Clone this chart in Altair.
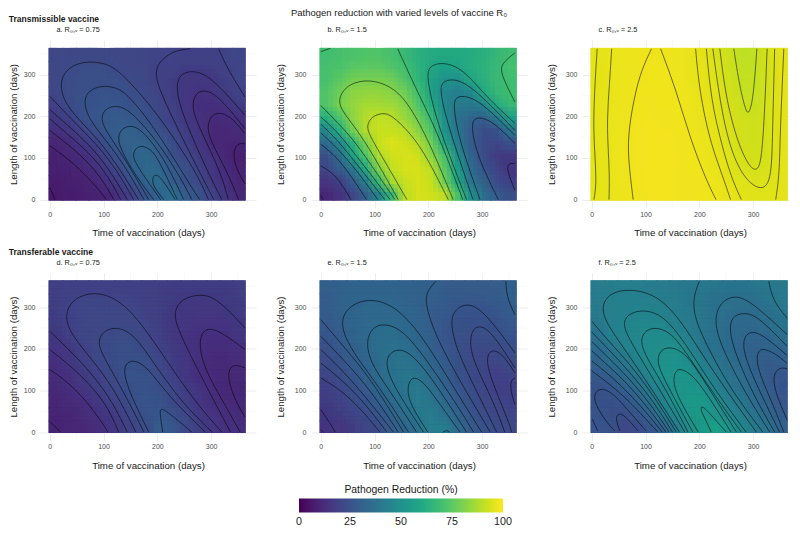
import altair as alt
import numpy as np
import pandas as pd

alt.data_transformers.disable_max_rows()

# Pathogen reduction (%): rows run from long to short vaccination, columns early to late
grid_a = [
 [21,21.5,22,22,22,21.8,21.3,20.8,20.3,20.1,19.7,19.5,19.7,20.3,21],
 [21.7,23,23.6,23.7,23,22.3,21.5,20.8,19.7,19,18,18,18.5,19.8,21],
 [21.5,23.5,24,24.2,24.2,23.7,22.3,21,19.6,18,17,17,17,18.7,21],
 [21,23.2,24.5,25.5,25.8,25.2,23.5,21.8,20,18,16,14.6,15,17.5,20],
 [19,22.8,24.8,26,27.3,26.8,25.3,22.8,21,18.5,16,14,14,15,18],
 [17,19.7,24,26.5,28.3,28.8,27.7,25,22.4,19.7,17,14.5,12.3,12.8,14.5],
 [13.5,16,20,24.5,28,30,30.3,27.5,24,20.8,18,15,12,12,12.5],
 [10.8,12.7,16.5,19.5,26,30.3,32,31,28.5,23,19.5,16,12,11,10.3],
 [9,10.8,13,16.5,21.5,26.7,32.8,33.5,29.5,24.5,21.5,17.5,14.8,11,9],
 [8.8,9.5,10.5,13.5,18,23,31,33.8,32.5,28,24,19.5,16,12.3,9.7],
 [8,8.7,9.3,11,14.8,19.5,25.5,33,35.3,29,25,22,17,14,10.5],
 [7,7.5,8.5,9.5,10.8,15.5,20.5,27,33,36,29,25,20,15.5,12],
]
grid_b = [
 [70,71,72,73,73,71,68,64,62,61,61,62,64,67,69],
 [71,72,74,75,75,73,70,65,60,57,59,62,65,68,71],
 [71,75,79,80,80,78,73,66,58,51,50,59,64,68.5,69],
 [73,78,83,84,84,82,78,70,58,47,44,47,60,68,69],
 [73,80,84,87,87,86,82,73,62,47,41,40,45,61,68],
 [63,72,83,89,91,90,85,78,68,50,38,33,30,41,56],
 [47,63,78,89,92,92,90,82,73,52,39,29,23,26,39],
 [34,46,64,80,92,95,93,89,78,59,42,29,23,21,26],
 [24,36,57,72,88,93,94,93,83,71,49,32,23,18,17],
 [21,29,39,60,81,91,94,94,90,75,56,36,26,20,16],
 [15,19,29,43,68,87,92,94,92,78,60,40,30,23,19],
 [11,15,21,30,45,68,90,94,93,90,71,50,36,29,24],
]
grid_c = [
 [96.3,97,97.5,97.8,98,97.9,97.6,97.2,96.2,94.7,92.6,90.6,90.8,94,96],
 [96.2,96.9,97.6,97.9,98.1,98.1,97.8,97.4,96.4,95,93,91,91,93.8,96],
 [96.2,96.9,97.7,98,98.2,98.2,97.9,97.4,96.6,95.2,93.3,91.4,91.4,93.8,96],
 [96.2,97,97.7,98.1,98.3,98.3,98,97.5,96.8,95.4,93.7,91.8,91.6,93.8,96],
 [96.2,97,97.7,98.2,98.4,98.3,98.1,97.7,97,95.6,94,92.4,92,94,96],
 [96.2,97,97.8,98.3,98.5,98.4,98.2,97.8,97.2,96,94.4,93,92.6,94.2,96],
 [96.2,97,97.9,98.4,98.6,98.5,98.3,98,97.4,96.2,94.6,93.4,93,94,96],
 [96.2,97,98,98.4,98.6,98.6,98.4,98.1,97.5,96.4,95,93.6,93,94,96],
 [96.2,97,98,98.4,98.6,98.6,98.5,98.2,97.7,96.8,95.3,94,93.2,94,96],
 [96.3,97,97.9,98.4,98.6,98.6,98.5,98.3,97.9,97,95.7,94.5,94,94.5,96],
 [96.3,97,97.8,98.3,98.6,98.6,98.5,98.4,98.1,97.5,96.3,95.4,94.9,95,96],
 [96.2,97,97.7,98.2,98.5,98.6,98.5,98.4,98.2,97.9,97,96.1,95.7,95.6,95.9],
]
grid_d = [
 [18.5,19,19.5,19.5,19.5,19.5,19,19,18.5,18,18,18,18,18,18.5],
 [18.5,20,20.5,21,20.8,20.5,20,19,18.3,17.5,17,17,17,17.3,18],
 [18,20,21,21.2,21.5,21.5,21,19.8,18.5,17,16.2,16,16,16.5,17.5],
 [17.5,19.5,21,21.5,22,22.3,22,20.5,18.5,16.5,15.5,15,15,15.3,16.5],
 [16.5,18.5,20.5,21.5,22.5,23.5,23,21,19,17,15,14,14,14.2,15.5],
 [15,17,19.5,21.5,23,24,24.3,22.5,20,17.5,15,13.5,13,13,14],
 [14,16,18.5,20.5,22.5,24.5,25.5,24,21,18,15.5,13.8,12.5,12,13],
 [13,14.5,17,19.5,21.8,24,25.8,25.5,22.5,19.5,16.5,14,12.7,11.8,12.3],
 [12,13.5,15.5,18,20.5,23,25.5,26,24,20.5,17.5,15,13,12,11.8],
 [11,12.5,14,16,19,21.5,24.5,26.5,25.5,22,19,16,14,12.5,12],
 [10.3,11,12.5,14.5,16.5,19.5,22.5,26,27.5,24.5,20.5,17,15,13.5,12.5],
 [10,10.5,11.5,13,15,17.5,20.5,24.5,28.5,27,22,18.5,16,14.5,13.5],
]
grid_e = [
 [30,31,31.5,31.8,32,32,31.5,31,30.5,29.5,29,29,29,29.5,30.5],
 [29.5,31.5,32.7,33,33,32.8,32,31,30,28.5,28,27.8,27.8,28.5,30],
 [29,31,33,34,34.3,34,33,31.5,29.5,27.5,26.5,26,26.2,27,29],
 [28,30.5,32.5,34.5,35.3,35.2,34.2,32,29.5,27,25.3,24.7,24.7,25.5,27.5],
 [26.5,29,32,34,36,36.8,35.5,33,30,27,24.5,23.5,23.3,24,26],
 [24.5,27.5,30.5,33.5,36,37.5,37.3,34.5,31,27.5,24.5,22.7,22,22.3,24.5],
 [22.5,25.5,29,32.5,35.5,38,39,36.5,32.5,28.5,25,22.7,21,20.8,22.5],
 [20.5,23.5,27,31,34.5,37.5,40,39,34.5,30,25.5,23,20.8,19.6,20.3],
 [19,21.5,24.5,28.5,33,36.5,39.5,41,37,32,27,23.5,21.2,19.8,19.2],
 [17.5,19.5,22.5,26,30,34.5,38.5,41.5,39.5,34.5,29,25,22,20.5,20],
 [16.5,18,20,23,27,31.5,36,40.5,42,37.5,31.5,26.5,23.5,21.5,20.5],
 [15.3,16,18,20.5,24,28.5,33,38,42.2,42.7,34.5,28.5,25,23,22],
]
grid_f = [
 [41.5,42,42.3,42.3,42,41.5,41,40.5,39.8,39.3,38.8,38.5,39,39.7,41],
 [41.5,43.5,44,44,43.5,42.3,41.5,40.5,39.3,38,37,37,37.6,39,41],
 [41,43.5,44.5,45,45,44,42.3,41,39,37.4,36,35.2,35.3,36.5,39],
 [40.5,43,45,46.5,47,46,44,41.5,39,37.5,35,34.5,34.5,35.5,38.5],
 [38,42,45,47,48.5,48.5,47.5,43,39.5,37.5,35.5,33.5,32,33,36],
 [34,38,42,46.5,48.8,49.5,50.5,46,40.5,38,35.5,32.5,31,31,33],
 [31,36,39,44,48,51,51,50,44,40,37,34,30.5,29,30],
 [28,30.5,35.5,39.5,45.5,50.5,52.8,52.8,46,42.5,38.5,36,31.5,28.5,27],
 [25.5,27,30.5,35,42,47,52.5,53.5,52,44,40,37.5,33.5,29.5,26.5],
 [25.5,25,26.5,31,38,44,51.5,54,54,50,43.5,39,35.5,31,27],
 [26,24,23.5,27,32,42,46,53,55,51,46,42.5,38.5,33.5,28.5],
 [27,25.5,22,23,27,31,41,49,54,56.5,51.5,47,41,38,31],
]

# Contour lines, each as x, y, x, y ... in days
contours_a = [
 [0,29,5,14,10,0],
 [0,129,32,100,63,64,94,20,105,0],
 [0,166,32,134,63,100,94,56,119,0],
 [0,194,32,158,63,124,94,82,115,40,132,0],
 [0,216,32,180,63,144,94,102,125,42,144,0],
 [0,248,32,204,63,164,94,122,125,70,156,0],
 [165,0,131,72,94,138,63,180,32,224,20,262,22,296,40,322,69,332,100,328,125,314,168,256,218,174,274,62,295,0],
 [175,0,137,88,94,158,70,200,63,238,72,262,97,274,120,270,140,258,175,206,218,126,267,22,279,0],
 [184,0,137,104,100,172,95,200,105,220,125,226,150,214,199,142,243,54,264,0],
 [193,0,156,64,131,122,126,152,135,172,150,178,170,170,212,102,249,0],
 [206,0,159,86,154,108,160,124,171,130,185,122,199,106,237,0],
 [212,0,193,30,190,50,196,62,208,52,233,0],
 [261,362,235,358,218,346,200,325,197,300,202,270,230,190,280,62,305,0],
 [314,362,330,315,363,246],
 [320,0,292,70,243,214,235,270,240,295,255,309,286,306,323,262,363,202],
 [332,0,317,70,274,182,264,225,270,252,283,264,311,254,363,170],
 [351,0,329,70,298,142,293,175,298,198,311,210,336,202,363,158],
 [363,134,348,136,340,110,348,70,363,38],
]
contours_b = [
 [0,10,4,0],
 [0,355,18,363],
 [0,81,25,62,45,25,56,0],
 [0,133,30,102,60,50,85,0],
 [0,160,30,125,70,65,106,0],
 [0,181,30,145,75,72,119,0],
 [0,198,30,165,80,82,129,0],
 [0,226,30,186,60,145,90,90,138,0],
 [144,0,92,120,60,180,39,214,32,240,45,270,70,285,101,286,138,267,169,219,206,126,246,0],
 [160,0,120,90,90,155,85,178,95,200,116,209,132,202,162,166,194,111,237,0],
 [143,362,181,255,218,159,264,0],
 [271,0,221,166,203,254,197,306,205,322,227,330,264,315,308,246,361,183],
 [283,0,231,198,221,270,228,283,243,290,277,279,361,166],
 [296,0,255,150,246,231,252,245,264,250,296,238,361,154],
 [330,0,290,106,280,174,284,192,293,198,318,190,361,135],
 [361,87,348,87,346,70,361,22],
 [361,352,336,327,334,303,361,234],
]
contours_c = [
 [10,362,6,280,3,190,5,120,9,40,4,0],
 [37,362,33,280,28,190,31,110,33,50,32,0],
 [77,0,71,62,66,134,74,214,89,302,111,362],
 [128,362,157,262,182,150,213,46,231,0],
 [193,362,200,262,219,142,244,54,258,0],
 [213,362,222,238,241,134,259,54,278,0],
 [225,362,238,238,256,126,281,54,312,21,334,38,336,158,340,362],
 [238,362,250,238,272,134,293,78,306,69,315,86,321,198,326,362],
 [264,362,275,270,287,210,292,206,300,238,307,362],
 [357,362,350,158,349,62,342,0],
]
contours_d = [
 [0,26,20,0],
 [0,150,32,122,69,74,100,18,108,0],
 [0,198,32,166,69,122,106,66,128,0],
 [0,242,32,202,69,154,113,82,144,0],
 [160,0,119,106,76,178,35,242,28,286,45,322,82,337,125,322,168,266,218,170,274,66,320,0],
 [175,0,137,98,97,186,89,218,100,243,122,253,156,238,199,154,249,66,302,0],
 [184,0,147,98,137,146,142,165,154,174,181,158,218,90,289,0],
 [210,0,204,50,207,57,218,50,264,0],
 [336,0,237,242,230,290,245,320,280,332,311,322,363,250],
 [354,0,329,58,286,154,278,210,282,238,295,250,317,242,363,198],
 [363,154,339,165,329,138,342,82,363,36],
]
contours_e = [
 [0,6,5,0],
 [0,54,17,22,27,0],
 [0,130,36,102,73,58,110,0],
 [0,166,42,122,79,74,123,0],
 [0,198,42,146,85,82,135,0],
 [0,230,42,174,92,102,144,0],
 [0,270,42,206,92,130,154,0],
 [163,0,110,106,67,178,42,234,38,274,55,305,92,322,141,302,191,226,240,122,299,0],
 [178,0,129,98,92,166,84,218,95,250,116,262,154,246,203,162,253,66,284,0],
 [191,0,141,98,121,154,124,186,144,202,172,186,215,114,271,0],
 [199,0,166,66,160,106,169,136,191,122,222,66,259,0],
 [227,0,234,5,240,0],
 [214,362,197,338,194,306,215,226,259,122,315,0],
 [344,362,346,322,361,282],
 [327,0,290,98,253,194,240,266,250,295,271,310,302,294,361,190],
 [342,0,321,74,283,170,277,218,282,245,293,256,315,246,361,154],
 [355,0,349,26,318,122,308,170,312,190,321,198,339,186,361,142],
 [361,129,353,126,353,98,361,66],
]
contours_f = [
 [52,3,43,36,52,47,64,36,86,3],
 [43,3,27,24,6,67,4,91,15,107,39,96,76,39,101,3],
 [1,31,11,3],
 [0,147,30,118,60,86,90,46,123,0],
 [0,171,30,140,60,105,100,50,131,0],
 [0,195,30,160,65,118,105,58,138,0],
 [0,217,30,180,70,128,110,66,144,0],
 [0,240,30,200,70,145,115,74,150,0],
 [0,266,30,220,70,165,115,88,157,0],
 [163,0,114,98,64,194,24,266,18,306,35,335,71,344,120,330,163,274,213,170,269,66,306,0],
 [173,0,102,154,64,234,58,266,70,285,95,294,133,282,176,210,226,106,287,0],
 [179,0,133,114,98,186,90,222,100,245,120,252,151,238,194,154,241,66,278,0],
 [188,0,129,138,121,174,128,197,145,206,176,190,213,114,269,0],
 [198,0,160,82,151,122,155,145,163,154,188,138,219,82,259,0],
 [222,0,210,34,202,54,204,64,216,50,250,0],
 [200,362,188,322,191,274,213,210,256,106,318,0],
 [329,362,337,314,363,274],
 [331,0,287,90,238,210,227,274,240,312,263,328,293,318,363,234],
 [340,0,300,90,262,202,255,258,265,280,281,286,306,282,363,206],
 [349,0,318,82,287,170,281,210,285,232,297,242,318,234,363,184],
 [357,0,337,66,312,138,306,178,310,195,318,201,340,190,363,165],
 [363,152,349,156,337,138,340,98,363,30],
]

panel_titles = ["a. R₀,ᵥ = 0.75", "b. R₀,ᵥ = 1.5", "c. R₀,ᵥ = 2.5",
                "d. R₀,ᵥ = 0.75", "e. R₀,ᵥ = 1.5", "f. R₀,ᵥ = 2.5"]
row_titles = ["Transmissible vaccine", "Transferable vaccine"]
main_title = "Pathogen reduction with varied levels of vaccine R₀"
major_ticks = [0, 100, 200, 300]
minor_ticks = [50, 150, 250, 350]
# The ends sit a hair inside the scale so that Vega centres their labels on the bar's ends
legend_ticks = [0.01, 25, 50, 75, 99.99]

FONT = "Liberation Sans"
X_MIN, X_MAX, PANEL_W = -18.2, 383.4, 216
Y_MIN, Y_MAX, PANEL_H = -20.1, 383, 168
PX_X = PANEL_W / (X_MAX - X_MIN)
PX_Y = PANEL_H / (Y_MAX - Y_MIN)
LOW, HIGH = -2, 364
# Each grid is drawn several times, slightly shifted and see-through, so the cells blend
SHIFTS = [(0, 0), (-1/3, -1/3), (1/3, 1/3), (-1/3, 1/3), (1/3, -1/3),
          (0, -1/3), (0, 1/3), (-1/3, 0), (1/3, 0)]


def snap_x(v):
    return X_MIN + round((v - X_MIN) * PX_X) / PX_X


def snap_y(v):
    return Y_MAX - round((Y_MAX - v) * PX_Y) / PX_Y


def grid_frame(grid, fx=0, fy=0, solid=False):
    rows, cols = len(grid), len(grid[0])
    xe = np.linspace(LOW, HIGH, cols + 1)
    ye = np.linspace(HIGH, LOW, rows + 1)
    sx = (xe[1] - xe[0]) * fx
    sy = (ye[0] - ye[1]) * fy
    lap = 3 if solid else 0
    out = []
    for r, row in enumerate(grid):
        y1 = LOW if r == rows - 1 else snap_y(max(min(ye[r + 1] + sy, HIGH), LOW)) - lap
        y2 = HIGH if r == 0 else snap_y(max(min(ye[r] + sy, HIGH), LOW))
        y1 = max(y1, LOW)
        for c, v in enumerate(row):
            x1 = LOW if c == 0 else snap_x(max(min(xe[c] + sx, HIGH), LOW))
            x2 = HIGH if c == cols - 1 else snap_x(max(min(xe[c + 1] + sx, HIGH), LOW)) + lap
            x2 = min(x2, HIGH)
            out.append({"x": round(float(x1), 3), "x2": round(float(x2), 3),
                        "y": round(float(y1), 3), "y2": round(float(y2), 3), "value": v})
    return pd.DataFrame(out)


def contour_frame(contours):
    out = []
    for k, line in enumerate(contours):
        for i in range(0, len(line), 2):
            out.append({"x": line[i], "y": line[i + 1], "line": k, "i": i})
    return pd.DataFrame(out)


def panel(grid, contours, title, y_title_pad, width=PANEL_W):
    x_scale = alt.Scale(domain=[X_MIN, X_MIN + width / PX_X], nice=False, zero=False)
    y_scale = alt.Scale(domain=[Y_MIN, Y_MAX], nice=False, zero=False)
    x_axis = alt.Axis(values=major_ticks, title="Time of vaccination (days)", format="d",
                      grid=True, gridColor="#ebebeb", gridWidth=0.9, ticks=False, domain=False,
                      labelFontSize=7, labelColor="#4d4d4d", labelPadding=2,
                      titleFontSize=9.7, titleFontWeight="normal", titleColor="#1a1a1a", titlePadding=10.5,
                      titleX=PANEL_W / 2)
    y_axis = alt.Axis(values=major_ticks, title="Length of vaccination (days)", format="d",
                      grid=True, gridColor="#ebebeb", gridWidth=0.9, ticks=False, domain=False,
                      labelFontSize=7, labelColor="#4d4d4d", labelPadding=5,
                      titleFontSize=9.7, titleFontWeight="normal", titleColor="#1a1a1a", titlePadding=y_title_pad)
    minor_x = alt.Chart(pd.DataFrame({"x": minor_ticks})).mark_rule(color="#f0f0f0", strokeWidth=0.5).encode(
        x=alt.X("x:Q", scale=x_scale, axis=x_axis))
    minor_y = alt.Chart(pd.DataFrame({"y": minor_ticks})).mark_rule(color="#f0f0f0", strokeWidth=0.5).encode(
        y=alt.Y("y:Q", scale=y_scale, axis=y_axis))
    colour = alt.Scale(scheme="viridis", domain=[0, 100], nice=False)
    passes = []
    for k, (fx, fy) in enumerate(SHIFTS):
        legend = None
        if k == 0:
            legend = alt.Legend(
                type="gradient", title="Pathogen Reduction (%)", orient="none", direction="horizontal",
                legendX=259, legendY=445,
                titleAnchor="middle", titleFontSize=10.4, titleFontWeight="normal", titleColor="#1a1a1a",
                titlePadding=3, labelFontSize=10.7, labelColor="#1a1a1a", values=legend_ticks, format=".0f",
                gradientLength=204, gradientThickness=14, labelOffset=5, labelOverlap=False)
        enc = dict(
            x=alt.X("x:Q", scale=x_scale, axis=x_axis),
            x2="x2:Q",
            y=alt.Y("y:Q", scale=y_scale, axis=y_axis),
            y2="y2:Q",
            color=alt.Color("value:Q", scale=colour, legend=legend),
        )
        if k == 0:
            mark = alt.Chart(grid_frame(grid, fx, fy, solid=True)).mark_rect()
        else:
            mark = alt.Chart(grid_frame(grid, fx, fy)).mark_rect(opacity=1 / (k + 1))
        passes.append(mark.encode(**enc))
    lines = alt.Chart(contour_frame(contours)).mark_line(
        color="#000000", strokeWidth=0.75, opacity=0.72, interpolate="basis").encode(
        x=alt.X("x:Q", scale=x_scale, axis=x_axis),
        y=alt.Y("y:Q", scale=y_scale, axis=y_axis),
        detail="line:N",
        order="i:Q",
    )
    return alt.layer(minor_x, minor_y, *passes, lines).properties(
        width=width, height=PANEL_H,
        title=alt.TitleParams(title, anchor="start", frame="group", fontSize=7.3, fontWeight="normal",
                              color="#1a1a1a", dx=16.5, offset=6))


row1 = alt.hconcat(panel(grid_a, contours_a, panel_titles[0], 4.5),
                   panel(grid_b, contours_b, panel_titles[1], 9),
                   panel(grid_c, contours_c, panel_titles[2], 9, width=207), spacing=18).properties(
    title=alt.TitleParams(row_titles[0], anchor="start", frame="bounds", fontSize=8.5, fontWeight="bold",
                          color="#1a1a1a", offset=2.5))
row2 = alt.hconcat(panel(grid_d, contours_d, panel_titles[3], 4.5),
                   panel(grid_e, contours_e, panel_titles[4], 9),
                   panel(grid_f, contours_f, panel_titles[5], 9, width=207), spacing=18).properties(
    title=alt.TitleParams(row_titles[1], anchor="start", frame="bounds", fontSize=8.5, fontWeight="bold",
                          color="#1a1a1a", offset=2.5))

chart = alt.vconcat(row1, row2, spacing=9.5).properties(
    padding=0,
    title=alt.TitleParams(main_title, anchor="middle", fontSize=9.5, fontWeight="normal",
                          color="#1a1a1a", offset=-2.4),
).resolve_scale(color="shared").configure(font=FONT).configure_view(stroke=None)

chart.save("out.html", embed_options={"renderer": "svg", "actions": False})
